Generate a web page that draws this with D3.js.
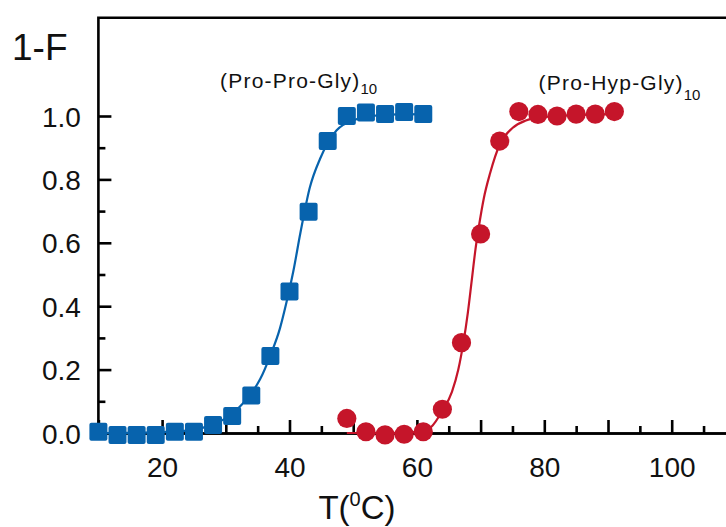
<!DOCTYPE html>
<html>
<head>
<meta charset="utf-8">
<script src="https://cdn.jsdelivr.net/npm/d3@7"></script>
<style>
  body { margin: 0; background: #fff; }
  svg { display: block; }
  text { font-family: "Liberation Sans", Arial, Helvetica, sans-serif; fill: #111; }
</style>
</head>
<body>
<div id="chart"></div>
<script>
var width = 726,
    height = 527;

// (Pro-Pro-Gly)10 measured points
var ppgTemp = [10, 13, 16, 19, 22, 25, 28, 31, 34, 37, 40, 43, 46, 49, 52, 55, 58, 61];
var ppgValue = [0.004, -0.006, -0.006, -0.006, 0.004, 0.004, 0.025, 0.054, 0.118, 0.243, 0.446, 0.698, 0.921, 1.0, 1.011, 1.006, 1.013, 1.006];

// (Pro-Hyp-Gly)10 measured points
var phgTemp = [49, 52, 55, 58, 61, 64, 67, 70, 73, 76, 79, 82, 85, 88, 91];
var phgValue = [0.046, 0.004, -0.006, -0.004, 0.004, 0.075, 0.285, 0.628, 0.921, 1.014, 1.005, 1.0, 1.006, 1.006, 1.014];

// fitted curves
var ppgFitTemp = [10, 20, 25, 27, 29, 31, 32.3, 34, 35.4, 37, 38.5, 39.5, 40.6, 41.7, 43.2, 44.8, 46, 47.4, 50.5, 53, 57, 61];
var ppgFitValue = [0.0, 0.003, 0.01, 0.02, 0.036, 0.06, 0.085, 0.125, 0.17, 0.245, 0.33, 0.41, 0.51, 0.63, 0.775, 0.865, 0.915, 0.955, 0.99, 1.0, 1.005, 1.006];

var phgFitTemp = [49, 55, 59, 61, 62.2, 64, 65.5, 66.5, 67.3, 68, 68.6, 69.2, 69.8, 70.5, 71.5, 73, 75, 77, 80, 85, 91];
var phgFitValue = [0.0, 0.0, 0.002, 0.006, 0.018, 0.07, 0.13, 0.2, 0.285, 0.38, 0.48, 0.58, 0.66, 0.74, 0.82, 0.91, 0.962, 0.985, 0.997, 1.003, 1.006];

var xMajor = [10, 20, 30, 40, 50, 60, 70, 80, 90, 100];
var xMinor = [15, 25, 35, 45, 55, 65, 75, 85, 95, 105];
var xLabels = [20, 40, 60, 80, 100];
var yMajor = [0, 0.2, 0.4, 0.6, 0.8, 1.0];
var yMinor = [0.1, 0.3, 0.5, 0.7, 0.9];

var blue = "#0763ad",
    red = "#c5152a";

var x = d3.scaleLinear().domain([10, 110]).range([98.4, 98.4 + 637]);
var y = d3.scaleLinear().domain([0, 1.31]).range([433, 433 - 1.31 * 317]);

var svg = d3.select("#chart").append("svg")
    .attr("width", width)
    .attr("height", height);

// frame: left axis + top line
svg.append("path")
    .attr("d", "M" + x(110) + "," + y(1.31) + "H" + x(10) + "V" + y(0))
    .attr("fill", "none")
    .attr("stroke", "#000")
    .attr("stroke-width", 2.6);

// x axis (ticks pointing in)
var gx = svg.append("g").attr("transform", "translate(0," + y(0) + ")");
gx.call(d3.axisBottom(x).tickValues(xMajor).tickSize(-13).tickSizeOuter(0)
    .tickFormat(function (d) { return xLabels.indexOf(d) >= 0 ? d : ""; }));
gx.append("g").call(d3.axisBottom(x).tickValues(xMinor).tickSize(-7).tickSizeOuter(0).tickFormat(""));
gx.selectAll(".domain").attr("stroke-width", 2.6);
gx.selectAll(".tick line").attr("stroke-width", 2.6);
gx.selectAll("text")
    .attr("y", 44).attr("dy", 0)
    .style("font-size", "28px")
    .attr("fill", "#1a1a1a");

// y axis
var gy = svg.append("g").attr("transform", "translate(" + x(10) + ",0)");
gy.call(d3.axisLeft(y).tickValues(yMajor).tickSize(-13).tickSizeOuter(0).tickFormat(d3.format(".1f")));
gy.append("g").call(d3.axisLeft(y).tickValues(yMinor).tickSize(-7).tickSizeOuter(0).tickFormat(""));
gy.selectAll(".domain").remove();
gy.selectAll(".tick line").attr("stroke-width", 2.6);
gy.selectAll("text")
    .attr("x", -17.5).attr("dy", "0.36em")
    .style("font-size", "28px")
    .attr("fill", "#1a1a1a");

var line = d3.line()
    .x(function (d) { return x(d[0]); })
    .y(function (d) { return y(d[1]); })
    .curve(d3.curveMonotoneX);

// blue series
svg.append("path")
    .datum(d3.zip(ppgFitTemp, ppgFitValue))
    .attr("d", line)
    .attr("fill", "none")
    .attr("stroke", blue)
    .attr("stroke-width", 2.2);

var sq = 18;
svg.selectAll(".ppg")
    .data(d3.zip(ppgTemp, ppgValue))
    .enter().append("rect")
    .attr("class", "ppg")
    .attr("x", function (d) { return x(d[0]) - sq / 2; })
    .attr("y", function (d) { return y(d[1]) - sq / 2; })
    .attr("width", sq)
    .attr("height", sq)
    .attr("rx", 2)
    .attr("fill", blue);

// red series
svg.append("path")
    .datum(d3.zip(phgFitTemp, phgFitValue))
    .attr("d", line)
    .attr("fill", "none")
    .attr("stroke", red)
    .attr("stroke-width", 2.2);

svg.selectAll(".phg")
    .data(d3.zip(phgTemp, phgValue))
    .enter().append("circle")
    .attr("class", "phg")
    .attr("cx", function (d) { return x(d[0]); })
    .attr("cy", function (d) { return y(d[1]); })
    .attr("r", 9.6)
    .attr("fill", red);

// series labels
function seriesLabel(tx, ty, name, subDy) {
    var t = svg.append("text")
        .attr("x", x(tx))
        .attr("y", y(ty))
        .style("font-size", "21px")
        .style("letter-spacing", "1.2px");
    t.append("tspan").text(name);
    t.append("tspan")
        .attr("dy", subDy)
        .style("font-size", "15px")
        .style("letter-spacing", "0px")
        .text("10");
}
seriesLabel(29.1, 1.088, "(Pro-Pro-Gly)", 6);
seriesLabel(79.1, 1.082, "(Pro-Hyp-Gly)", 10);

// axis titles
svg.append("text")
    .attr("x", 12)
    .attr("y", 60)
    .style("font-size", "37px")
    .text("1-F");

var xt = svg.append("text")
    .attr("x", 357)
    .attr("y", 519)
    .attr("text-anchor", "middle")
    .style("font-size", "33px");
xt.append("tspan").text("T(");
xt.append("tspan").attr("dy", -13).style("font-size", "20px").text("0");
xt.append("tspan").attr("dy", 13).text("C)");
</script>
</body>
</html>
